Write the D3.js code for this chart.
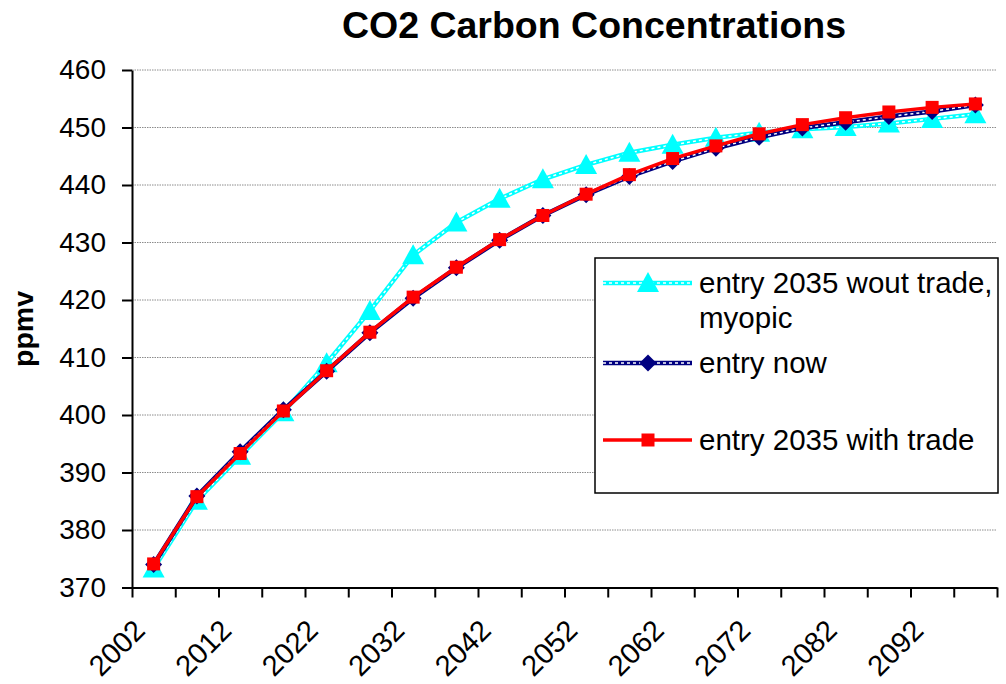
<!DOCTYPE html>
<html>
<head>
<meta charset="utf-8">
<script src="https://cdn.jsdelivr.net/npm/d3@7"></script>
<style>
html, body { margin: 0; padding: 0; background: #fff; }
svg { display: block; font-family: "Liberation Sans", Arial, sans-serif; }
</style>
</head>
<body>
<svg id="chart" width="1006" height="684"></svg>
<script>
const categories = ["2002","2007","2012","2017","2022","2027","2032","2037","2042","2047",
                    "2052","2057","2062","2067","2072","2077","2082","2087","2092","2097"];
const tickLabels = ["2002","2012","2022","2032","2042","2052","2062","2072","2082","2092"];
const yTicks = [370,380,390,400,410,420,430,440,450,460];

const wout = [373.3,385.1,392.9,400.5,409.0,418.1,427.8,433.5,437.6,441.0,
              443.5,445.6,447.0,448.2,449.1,449.7,450.1,450.7,451.5,452.3];
const now  = [374.0,385.9,393.6,400.9,407.6,414.3,420.3,425.6,430.4,434.7,
              438.3,441.5,444.1,446.4,448.3,449.9,450.9,451.9,452.8,453.9];
const withTrade = [374.1,385.8,393.3,400.7,407.7,414.4,420.5,425.7,430.5,434.7,
              438.4,441.8,444.6,446.8,448.9,450.5,451.7,452.7,453.5,454.1];

const seriesNames = ["entry 2035 wout trade, myopic","entry now","entry 2035 with trade"];

const svg = d3.select("#chart");
const L = 132, R = 997, T = 70, B = 587.5;

const x = d3.scaleBand().domain(categories).range([L, R]).padding(0);
const xEdge = d3.scaleLinear().domain([0, categories.length]).range([L, R]);
const y = d3.scaleLinear().domain([370, 460]).range([B, T]);
const cx = c => x(c) + x.bandwidth() / 2;

// gridlines
svg.append("g").selectAll("line").data(yTicks.filter(v => v > 370)).join("line")
  .attr("x1", L).attr("x2", R).attr("y1", d => y(d)).attr("y2", d => y(d))
  .attr("stroke", "#8c8c8c").attr("stroke-width", 1).attr("stroke-dasharray", "1.5,1");

// y axis
const yAxis = svg.append("g").attr("transform", `translate(${L},0)`)
  .call(d3.axisLeft(y).tickValues(yTicks).tickSize(10).tickPadding(16).tickSizeOuter(0));
yAxis.selectAll("path,line").attr("stroke", "#000").attr("stroke-width", 2);
yAxis.selectAll("text").attr("font-size", 28).attr("fill", "#000")
  .attr("font-family", "Liberation Sans, Arial, sans-serif");

// x axis (ticks at category boundaries)
const xAxis = svg.append("g").attr("transform", `translate(0,${B})`)
  .call(d3.axisBottom(xEdge).ticks(categories.length).tickSize(10).tickFormat("").tickSizeOuter(0));
xAxis.selectAll("path,line").attr("stroke", "#000").attr("stroke-width", 2);

// x labels
svg.append("g").selectAll("text").data(categories.filter(c => tickLabels.includes(c))).join("text")
  .attr("transform", d => `translate(${cx(d) - 14},625) rotate(-45)`)
  .attr("text-anchor", "end").attr("dominant-baseline", "central")
  .attr("font-size", 29).attr("fill", "#000").text(d => d);

// title
svg.append("text").attr("x", 594).attr("y", 38).attr("text-anchor", "middle")
  .attr("font-size", 37.5).attr("font-weight", "bold").text("CO2 Carbon Concentrations");

// y axis title
svg.append("text").attr("transform", "translate(32.5,329) rotate(-90)")
  .attr("text-anchor", "middle").attr("font-size", 28.5).attr("font-weight", "bold").text("ppmv");

const line = d3.line().x((d, i) => cx(categories[i])).y(d => y(d));

function triangle(g, px, py, s) {
  g.append("path").attr("d", `M${px},${py - s * 0.55}L${px + s * 0.55},${py + s * 0.45}L${px - s * 0.55},${py + s * 0.45}Z`)
    .attr("fill", "#00ffff");
}
function diamond(g, px, py, s) {
  g.append("path").attr("d", `M${px},${py - s}L${px + s},${py}L${px},${py + s}L${px - s},${py}Z`)
    .attr("fill", "#000080");
}
function square(g, px, py, s) {
  g.append("rect").attr("x", px - s).attr("y", py - s).attr("width", 2 * s).attr("height", 2 * s)
    .attr("fill", "#ff0000");
}

// series: cyan
const gC = svg.append("g");
gC.append("path").datum(wout).attr("d", line).attr("fill", "none").attr("stroke", "#00ffff").attr("stroke-width", 4.5);
gC.append("path").datum(wout).attr("d", line).attr("fill", "none").attr("stroke", "#fff").attr("stroke-width", 1.5).attr("stroke-dasharray", "3,3");
wout.forEach((v, i) => triangle(gC, cx(categories[i]), y(v), 20));

// series: navy
const gN = svg.append("g");
gN.append("path").datum(now).attr("d", line).attr("fill", "none").attr("stroke", "#000080").attr("stroke-width", 4.5);
gN.append("path").datum(now).attr("d", line).attr("fill", "none").attr("stroke", "#fff").attr("stroke-width", 1.5).attr("stroke-dasharray", "3,3");
now.forEach((v, i) => diamond(gN, cx(categories[i]), y(v), 8.5));

// series: red
const gR = svg.append("g");
gR.append("path").datum(withTrade).attr("d", line).attr("fill", "none").attr("stroke", "#ff0000").attr("stroke-width", 3.5);
withTrade.forEach((v, i) => square(gR, cx(categories[i]), y(v), 6.5));

// legend
const lg = svg.append("g");
lg.append("rect").attr("x", 595).attr("y", 258).attr("width", 403).attr("height", 235)
  .attr("fill", "#fff").attr("stroke", "#000").attr("stroke-width", 1.5);
const items = [
  {y: 283, color: "#00ffff", dashed: true, mk: triangle, s: 20, lines: ["entry 2035 wout trade,", "myopic"]},
  {y: 363, color: "#000080", dashed: true, mk: diamond, s: 8.5, lines: ["entry now"]},
  {y: 440, color: "#ff0000", dashed: false, mk: square, s: 6.5, lines: ["entry 2035 with trade"]}
];
items.forEach(it => {
  lg.append("line").attr("x1", 603).attr("x2", 692).attr("y1", it.y).attr("y2", it.y)
    .attr("stroke", it.color).attr("stroke-width", it.dashed ? 4.5 : 3.5);
  if (it.dashed) {
    lg.append("line").attr("x1", 603).attr("x2", 692).attr("y1", it.y).attr("y2", it.y)
      .attr("stroke", "#fff").attr("stroke-width", 1.5).attr("stroke-dasharray", "3,3");
  }
  it.mk(lg, 648, it.y, it.s);
  it.lines.forEach((t, k) => {
    lg.append("text").attr("x", 699).attr("y", it.y + 10 + k * 35).attr("font-size", 29.5).attr("fill", "#000").text(t);
  });
});
</script>
</body>
</html>
